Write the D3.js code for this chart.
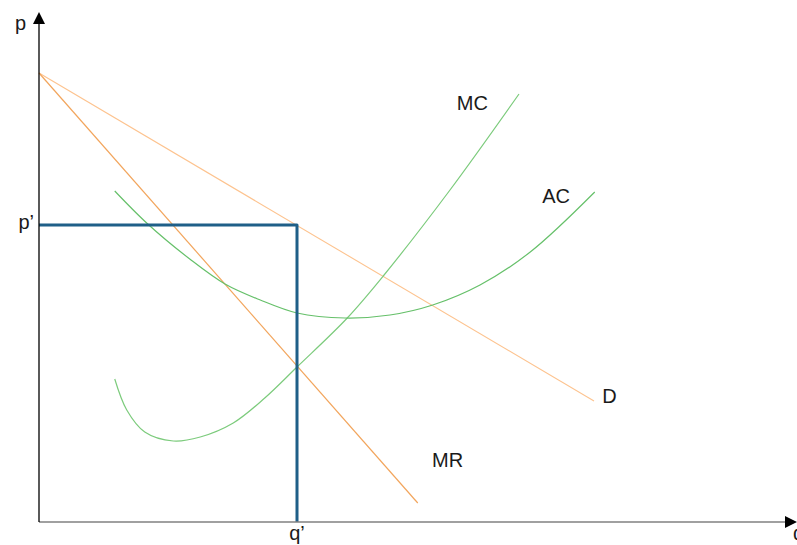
<!DOCTYPE html>
<html>
<head>
<meta charset="utf-8">
<script src="https://cdn.jsdelivr.net/npm/d3@7"></script>
<style>
  html, body { margin: 0; padding: 0; background: #fff; }
  svg { display: block; }
  text { font-family: "Liberation Sans", Arial, sans-serif; font-size: 20px; fill: #1a1a1a; }
</style>
</head>
<body>
<svg id="chart" width="797" height="545"></svg>
<script>
// ---- data (arbitrary units: q along x, p along y) ----
const demand = [[0, 8.98], [7.40, 2.42]];
const marginalRevenue = [[0, 8.98], [5.05, 0.38]];
const marginalCost = [
  [1.01, 2.86], [1.17, 2.24], [1.41, 1.80], [1.79, 1.62], [2.15, 1.70], [2.59, 1.98],
  [3.01, 2.48], [3.44, 3.10], [4.11, 4.08], [4.59, 4.92], [5.48, 6.64], [6.40, 8.56]
];
const averageCost = [
  [1.01, 6.62], [1.45, 5.96], [2.01, 5.26], [2.48, 4.76], [2.95, 4.44], [3.44, 4.18],
  [4.08, 4.08], [4.68, 4.14], [5.25, 4.34], [5.88, 4.74], [6.55, 5.40], [7.41, 6.60]
];
const qStar = 3.44;
const pStar = 5.94;
const curveLabels = [
  { text: "MC", at: [5.57, 8.24] },
  { text: "AC", at: [6.71, 6.38] },
  { text: "D",  at: [7.51, 2.38] },
  { text: "MR", at: [5.24, 1.10] }
];
const axisLabels = { y: "p", x: "q", pTick: "p’", qTick: "q’" };

// ---- scales ----
const svg = d3.select("#chart");
const x = d3.scaleLinear().domain([0, 10]).range([39, 789]);
const y = d3.scaleLinear().domain([0, 10]).range([522, 22]);

const line = d3.line().x(d => x(d[0])).y(d => y(d[1]));
const curve = d3.line().x(d => x(d[0])).y(d => y(d[1])).curve(d3.curveCatmullRom.alpha(0.5));

// ---- curves ----
svg.append("path").attr("d", line(demand))
  .attr("fill", "none").attr("stroke", "#fdc38f").attr("stroke-width", 1.1);
svg.append("path").attr("d", line(marginalRevenue))
  .attr("fill", "none").attr("stroke", "#f2a55c").attr("stroke-width", 1.2);
svg.append("path").attr("d", curve(marginalCost))
  .attr("fill", "none").attr("stroke", "#7ccb7c").attr("stroke-width", 1.2);
svg.append("path").attr("d", curve(averageCost))
  .attr("fill", "none").attr("stroke", "#66c06a").attr("stroke-width", 1.2);

// ---- p', q' guide lines ----
svg.append("path")
  .attr("d", line([[0, pStar], [qStar, pStar], [qStar, 0]]))
  .attr("fill", "none").attr("stroke", "#1f5f88").attr("stroke-width", 3)
  .attr("stroke-linejoin", "round");

// ---- axes ----
const x0 = x(0), y0 = y(0);
svg.append("line").attr("x1", x0).attr("y1", y0).attr("x2", 786).attr("y2", y0)
  .attr("stroke", "#808080").attr("stroke-width", 1.3);
svg.append("path").attr("d", `M797,${y0} L785,${y0 - 6} L785,${y0 + 6} Z`).attr("fill", "#000");

svg.append("line").attr("x1", x0).attr("y1", y0).attr("x2", x0).attr("y2", 22)
  .attr("stroke", "#000").attr("stroke-width", 1.3);
svg.append("path").attr("d", `M${x0},12 L${x0 - 6},24 L${x0 + 6},24 Z`).attr("fill", "#000");

// ---- texts ----
svg.append("text").attr("x", 15).attr("y", 30).text(axisLabels.y);
svg.append("text").attr("x", 793).attr("y", 540).text(axisLabels.x);
svg.append("text").attr("x", x0 - 5).attr("y", y(pStar) + 4).attr("text-anchor", "end").text(axisLabels.pTick);
svg.append("text").attr("x", x(qStar)).attr("y", 540).attr("text-anchor", "middle").text(axisLabels.qTick);

svg.selectAll("text.curve-label").data(curveLabels).enter().append("text")
  .attr("class", "curve-label")
  .attr("x", d => x(d.at[0])).attr("y", d => y(d.at[1]))
  .text(d => d.text);
</script>
</body>
</html>
